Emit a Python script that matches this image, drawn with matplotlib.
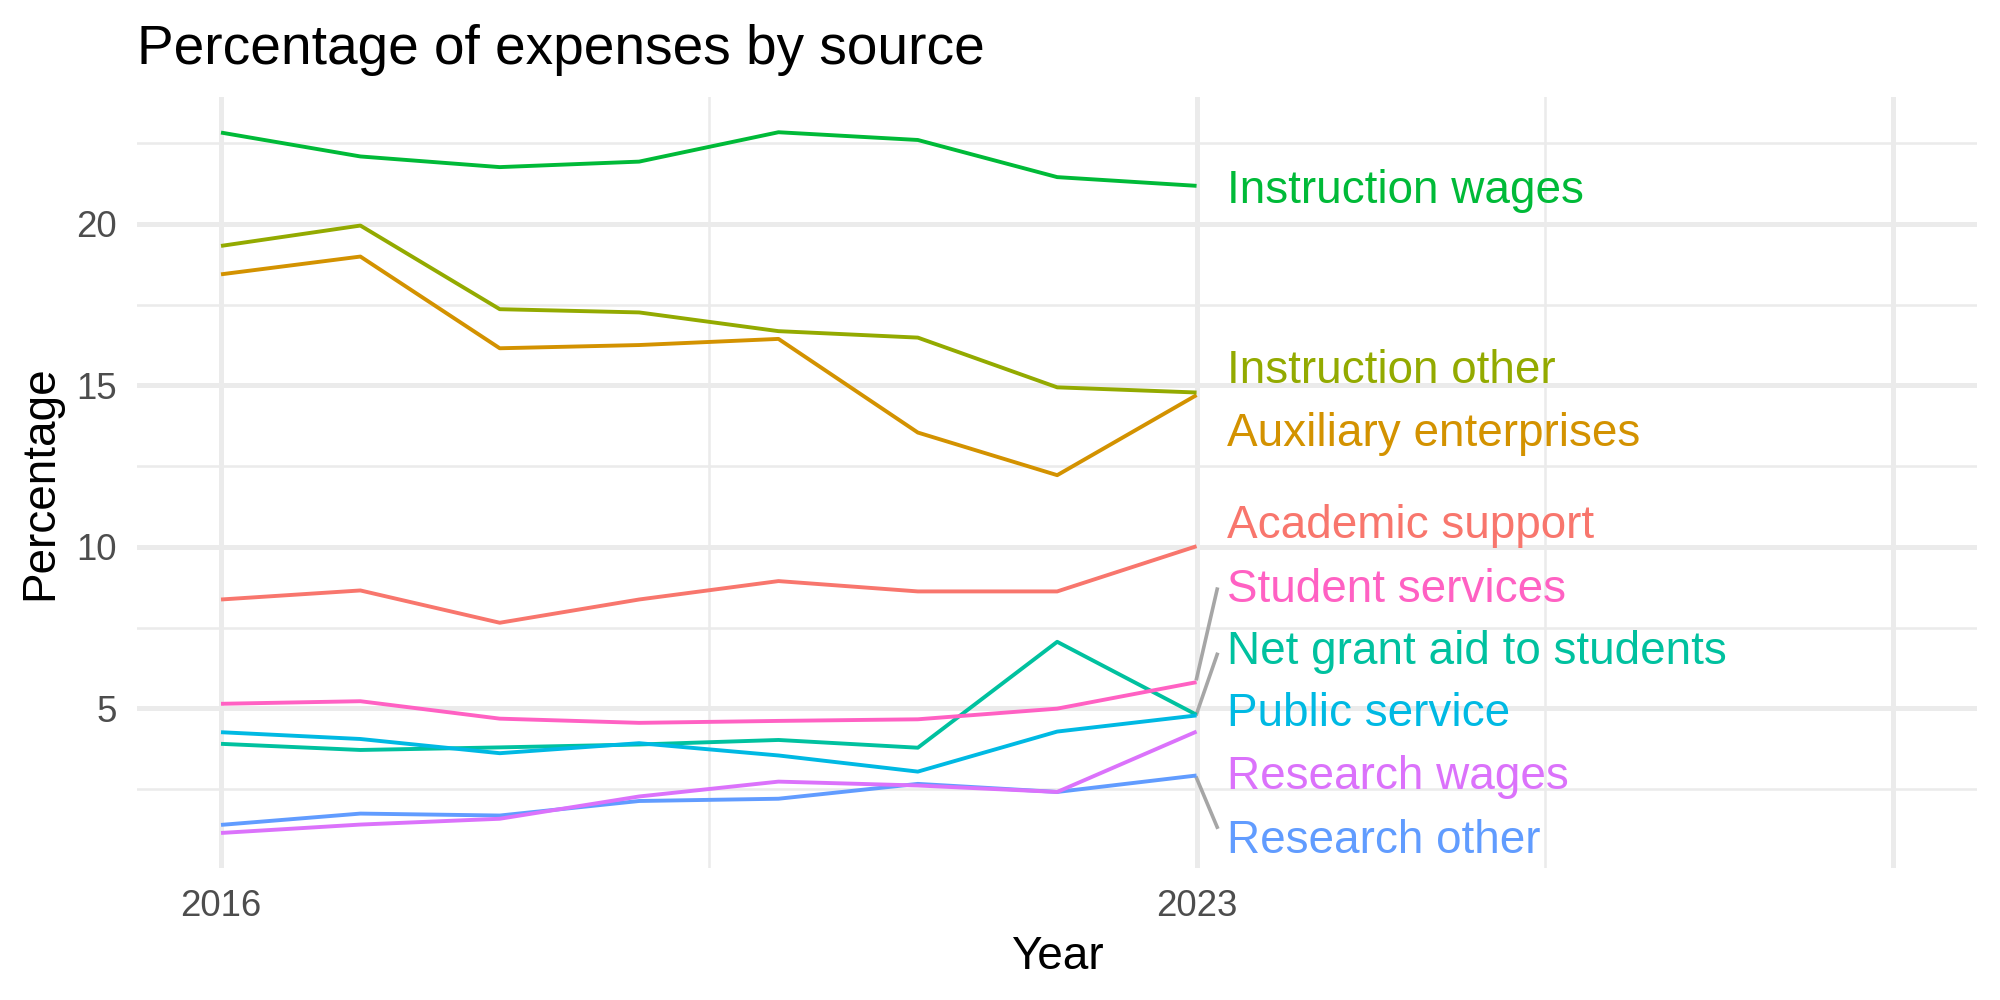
import numpy as np
import matplotlib.pyplot as plt
from matplotlib.transforms import offset_copy

plt.rcParams['font.family'] = ['Liberation Sans', 'DejaVu Sans']

years = [2016, 2017, 2018, 2019, 2020, 2021, 2022, 2023]

academic_support = [8.37, 8.65, 7.65, 8.37, 8.94, 8.62, 8.62, 10.02]
auxiliary_enterprises = [18.44, 18.99, 16.15, 16.25, 16.44, 13.54, 12.22, 14.70]
instruction_other = [19.32, 19.95, 17.36, 17.26, 16.68, 16.48, 14.94, 14.78]
instruction_wages = [22.83, 22.09, 21.76, 21.93, 22.84, 22.60, 21.45, 21.18]
net_grant_aid = [3.90, 3.71, 3.79, 3.88, 4.02, 3.78, 7.06, 4.80]
public_service = [4.26, 4.05, 3.61, 3.92, 3.54, 3.04, 4.28, 4.78]
research_other = [1.39, 1.74, 1.68, 2.13, 2.20, 2.66, 2.41, 2.92]
research_wages = [1.14, 1.40, 1.58, 2.27, 2.73, 2.61, 2.41, 4.28]
student_services = [5.14, 5.22, 4.68, 4.55, 4.61, 4.66, 4.99, 5.81]

sources = ["Academic support", "Auxiliary enterprises", "Instruction other",
           "Instruction wages", "Net grant aid to students", "Public service",
           "Research other", "Research wages", "Student services"]
values = [academic_support, auxiliary_enterprises, instruction_other,
          instruction_wages, net_grant_aid, public_service,
          research_other, research_wages, student_services]
# ggplot hue palette, 9 levels
colors = ["#F8766D", "#D39200", "#93AA00", "#00BA38", "#00C19F",
          "#00B9E3", "#619CFF", "#DB72FB", "#FF61C3"]

# where the repelled labels ended up (label centre, y)
label_y = [10.79, 13.64, 15.57, 21.15, 6.89, 4.96, 1.04, 3.00, 8.80]
# which labels got a leader segment: (y start, y end)
segments = {"Student services": (5.92, 8.69),
            "Net grant aid to students": (4.83, 6.67),
            "Research other": (2.84, 1.32)}

fig = plt.figure(figsize=(10, 5), dpi=200)
ax = fig.add_axes([0.0687, 0.132, 0.9885 - 0.0687, 0.9028 - 0.132])

# grid like theme_minimal
for v in [2016, 2023, 2028]:
    ax.axvline(v, color="#EBEBEB", lw=1.8, zorder=0)
for v in [2019.5, 2025.5]:
    ax.axvline(v, color="#EBEBEB", lw=0.9, zorder=0)
for v in [5, 10, 15, 20]:
    ax.axhline(v, color="#EBEBEB", lw=1.8, zorder=0)
for v in [2.5, 7.5, 12.5, 17.5, 22.5]:
    ax.axhline(v, color="#EBEBEB", lw=0.9, zorder=0)

for name, vals, col in zip(sources, values, colors):
    ax.plot(years, vals, color=col, lw=1.4, solid_capstyle="butt", zorder=2)

txt_tr = offset_copy(ax.transData, fig=fig, x=0, y=-5.9, units="points")
for name, vals, col, ly in zip(sources, values, colors, label_y):
    ax.text(2023.22, ly, name, color=col, fontsize=16.5, ha="left",
            va="baseline", transform=txt_tr, zorder=3)
    if name in segments:
        y0, y1 = segments[name]
        ax.plot([2023.0, 2023.148], [y0, y1], color="#A6A6A6", lw=1.3, zorder=1)

all_vals = np.concatenate([np.array(v) for v in values])
lo, hi = all_vals.min(), all_vals.max()
ax.set_ylim(lo - 0.05 * (hi - lo), hi + 0.05 * (hi - lo))
ax.set_xlim(2016 - 0.05 * 12, 2028 + 0.05 * 12)

ax.set_xticks([2016, 2023])
ax.set_yticks([5, 10, 15, 20])
ax.tick_params(length=0, labelsize=13.2, labelcolor="#4D4D4D", pad=7.5)
for s in ax.spines.values():
    s.set_visible(False)

ax.set_xlabel("Year", fontsize=16.5, labelpad=4)
ax.set_ylabel("Percentage", fontsize=16.5, labelpad=5)
ax.set_title("Percentage of expenses by source", fontsize=19.8, loc="left", pad=12)

fig.savefig("out.png", dpi=200, facecolor="white")
